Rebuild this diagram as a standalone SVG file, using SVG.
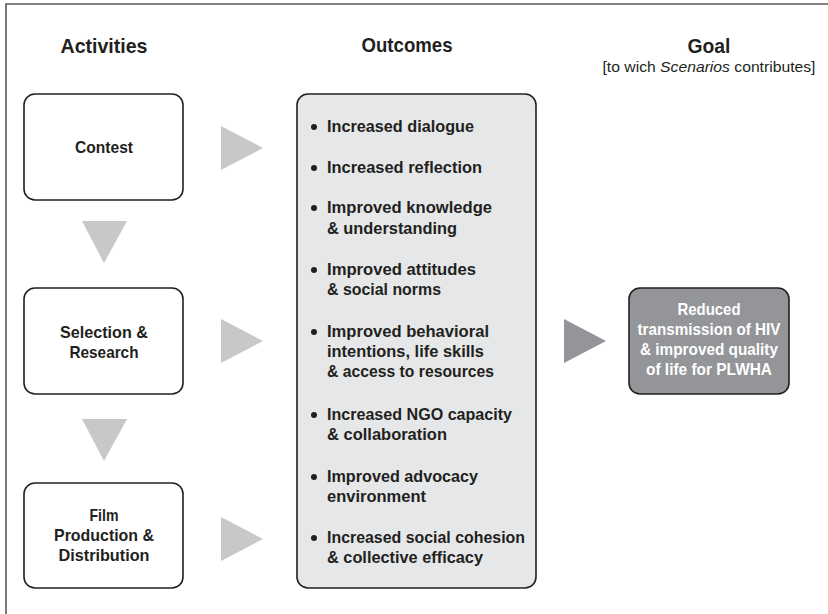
<svg xmlns="http://www.w3.org/2000/svg" width="828" height="614" viewBox="0 0 828 614">
<style>
text{font-family:"Liberation Sans",Arial,sans-serif;fill:#231f20;}
.h{font-size:21px;font-weight:bold;text-anchor:middle;}
.sub{font-size:15px;text-anchor:middle;}
.b{font-size:17px;font-weight:bold;}
.c{font-size:17px;font-weight:bold;text-anchor:middle;}
.g{font-size:17px;font-weight:bold;text-anchor:middle;fill:#ffffff;}
.box{fill:#ffffff;stroke:#231f20;stroke-width:1.6;}
.obox{fill:#e6e7e8;stroke:#231f20;stroke-width:1.6;}
.gbox{fill:#939598;stroke:#231f20;stroke-width:1.6;}
.tri{fill:#c7c8ca;}
.tri2{fill:#939598;}
.dot{fill:#231f20;}
</style>
<rect width="828" height="614" fill="#ffffff"/>
<path d="M6 614 V4 H828" fill="none" stroke="#58595b" stroke-width="1.6"/>
<g id="headers">
<text class="h" x="104" y="53" textLength="87" lengthAdjust="spacingAndGlyphs">Activities</text>
<text class="h" x="407" y="52" textLength="91" lengthAdjust="spacingAndGlyphs">Outcomes</text>
<text class="h" x="709" y="53" textLength="43" lengthAdjust="spacingAndGlyphs">Goal</text>
<text class="sub" x="709" y="72" textLength="213" lengthAdjust="spacingAndGlyphs">[to wich <tspan font-style="italic">Scenarios</tspan> contributes]</text>
</g>
<g id="connectors">
<polygon class="tri" points="82,221 127,221 104,263"/>
<polygon class="tri" points="82,419 127,419 104,461"/>
<polygon class="tri" points="221,126 263,148 221,170"/>
<polygon class="tri" points="221,319 263,341 221,363"/>
<polygon class="tri" points="221,517 263,539 221,561"/>
<polygon class="tri2" points="564,319 606,341 564,363"/>
</g>
<g id="contest">
<rect class="box" x="24" y="94" width="159" height="106" rx="11"/>
<text class="c" x="104" y="153" textLength="58" lengthAdjust="spacingAndGlyphs">Contest</text>
</g>
<g id="selection">
<rect class="box" x="24" y="288" width="159" height="106" rx="11"/>
<text class="c" x="104" y="338" textLength="88" lengthAdjust="spacingAndGlyphs">Selection &amp;</text>
<text class="c" x="104" y="358" textLength="69" lengthAdjust="spacingAndGlyphs">Research</text>
</g>
<g id="film">
<rect class="box" x="24" y="483" width="159" height="105" rx="11"/>
<text class="c" x="104" y="521" textLength="29" lengthAdjust="spacingAndGlyphs">Film</text>
<text class="c" x="104" y="541" textLength="100" lengthAdjust="spacingAndGlyphs">Production &amp;</text>
<text class="c" x="104" y="561" textLength="91" lengthAdjust="spacingAndGlyphs">Distribution</text>
</g>
<g id="outcomes">
<rect class="obox" x="297" y="94" width="239" height="494" rx="11"/>
<circle class="dot" cx="314" cy="127" r="3"/>
<text class="b" x="327" y="132" textLength="147" lengthAdjust="spacingAndGlyphs">Increased dialogue</text>
<circle class="dot" cx="314" cy="168" r="3"/>
<text class="b" x="327" y="173" textLength="155" lengthAdjust="spacingAndGlyphs">Increased reflection</text>
<circle class="dot" cx="314" cy="208" r="3"/>
<text class="b" x="327" y="213" textLength="165" lengthAdjust="spacingAndGlyphs">Improved knowledge</text>
<text class="b" x="327" y="234" textLength="130" lengthAdjust="spacingAndGlyphs">&amp; understanding</text>
<circle class="dot" cx="314" cy="270" r="3"/>
<text class="b" x="327" y="275" textLength="149" lengthAdjust="spacingAndGlyphs">Improved attitudes</text>
<text class="b" x="327" y="295" textLength="114" lengthAdjust="spacingAndGlyphs">&amp; social norms</text>
<circle class="dot" cx="314" cy="332" r="3"/>
<text class="b" x="327" y="337" textLength="162" lengthAdjust="spacingAndGlyphs">Improved behavioral</text>
<text class="b" x="327" y="357" textLength="157" lengthAdjust="spacingAndGlyphs">intentions, life skills</text>
<text class="b" x="327" y="377" textLength="167" lengthAdjust="spacingAndGlyphs">&amp; access to resources</text>
<circle class="dot" cx="314" cy="415" r="3"/>
<text class="b" x="327" y="420" textLength="185" lengthAdjust="spacingAndGlyphs">Increased NGO capacity</text>
<text class="b" x="327" y="440" textLength="120" lengthAdjust="spacingAndGlyphs">&amp; collaboration</text>
<circle class="dot" cx="314" cy="477" r="3"/>
<text class="b" x="327" y="482" textLength="151" lengthAdjust="spacingAndGlyphs">Improved advocacy</text>
<text class="b" x="327" y="502" textLength="99" lengthAdjust="spacingAndGlyphs">environment</text>
<circle class="dot" cx="314" cy="538" r="3"/>
<text class="b" x="327" y="543" textLength="198" lengthAdjust="spacingAndGlyphs">Increased social cohesion</text>
<text class="b" x="327" y="563" textLength="156" lengthAdjust="spacingAndGlyphs">&amp; collective efficacy</text>
</g>
<g id="goal">
<rect class="gbox" x="629" y="288" width="160" height="106" rx="11"/>
<text class="g" x="709" y="315" textLength="63" lengthAdjust="spacingAndGlyphs">Reduced</text>
<text class="g" x="709" y="335" textLength="143" lengthAdjust="spacingAndGlyphs">transmission of HIV</text>
<text class="g" x="709" y="355" textLength="138" lengthAdjust="spacingAndGlyphs">&amp; improved quality</text>
<text class="g" x="709" y="375" textLength="126" lengthAdjust="spacingAndGlyphs">of life for PLWHA</text>
</g>
</svg>
